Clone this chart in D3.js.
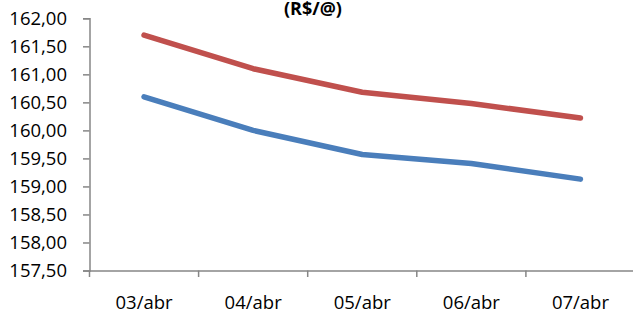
<!DOCTYPE html>
<html>
<head>
<meta charset="utf-8">
<script src="https://cdn.jsdelivr.net/npm/d3@7"></script>
<style>
html,body{margin:0;padding:0;background:#fff;}
svg{display:block;}
text{font-family:"Open Sans",sans-serif;fill:#000;}
</style>
</head>
<body>
<svg id="chart" width="633" height="314"></svg>
<script>
const categories = ["03/abr","04/abr","05/abr","06/abr","07/abr"];
const seriesRed  = [161.70, 161.10, 160.68, 160.48, 160.22];
const seriesBlue = [160.60, 160.00, 159.57, 159.41, 159.13];
const yTicks = [157.5,158,158.5,159,159.5,160,160.5,161,161.5,162];
const title = "(R$/@)";

const svg = d3.select("#chart");
const mLeft = 89.5, mRight = 635, mTop = 18.3, mBottom = 270.5;

const x = d3.scaleBand().domain(categories).range([mLeft, mRight]);
const y = d3.scaleLinear().domain([157.5, 162]).range([mBottom, mTop]);
const fmt = v => d3.format(".2f")(v).replace(".", ",");

const axisColor = "#868686";

// y axis
const gy = svg.append("g").attr("transform", `translate(${mLeft},0)`)
  .call(d3.axisLeft(y).tickValues(yTicks).tickFormat(fmt).tickSize(6.5).tickPadding(16));
gy.select(".domain").attr("stroke", axisColor).attr("stroke-width", 1.5);
gy.selectAll(".tick line").attr("stroke", axisColor).attr("stroke-width", 1.5);
gy.selectAll(".tick text").style("font-family", "'Open Sans', sans-serif").style("font-size", "18.5px").attr("fill", "#000");

// x axis
const gx = svg.append("g").attr("transform", `translate(0,${mBottom})`)
  .call(d3.axisBottom(x).tickSize(0).tickPadding(25));
gx.select(".domain").attr("stroke", axisColor).attr("stroke-width", 1.5);
gx.selectAll(".tick text").style("font-family", "'Open Sans', sans-serif").style("font-size", "18.5px").attr("fill", "#000");
// boundary ticks between categories
const bounds = categories.map(c => x(c)).concat([x(categories[categories.length-1]) + x.bandwidth()]);
svg.append("g").selectAll("line").data(bounds).join("line")
  .attr("x1", d => d).attr("x2", d => d)
  .attr("y1", mBottom).attr("y2", mBottom + 6.5)
  .attr("stroke", axisColor).attr("stroke-width", 1.5);

// lines
const line = d3.line()
  .x((d, i) => x(categories[i]) + x.bandwidth() / 2)
  .y(d => y(d));
svg.append("path").datum(seriesRed).attr("d", line)
  .attr("fill", "none").attr("stroke", "#C0504D").attr("stroke-width", 5.5)
  .attr("stroke-linecap", "round").attr("stroke-linejoin", "round");
svg.append("path").datum(seriesBlue).attr("d", line)
  .attr("fill", "none").attr("stroke", "#4A7EBB").attr("stroke-width", 5.5)
  .attr("stroke-linecap", "round").attr("stroke-linejoin", "round");

// title
svg.append("text").attr("x", 313).attr("y", 14.5)
  .attr("text-anchor", "middle")
  .style("font-size", "18px").style("font-weight", "bold")
  .text(title);
</script>
</body>
</html>
